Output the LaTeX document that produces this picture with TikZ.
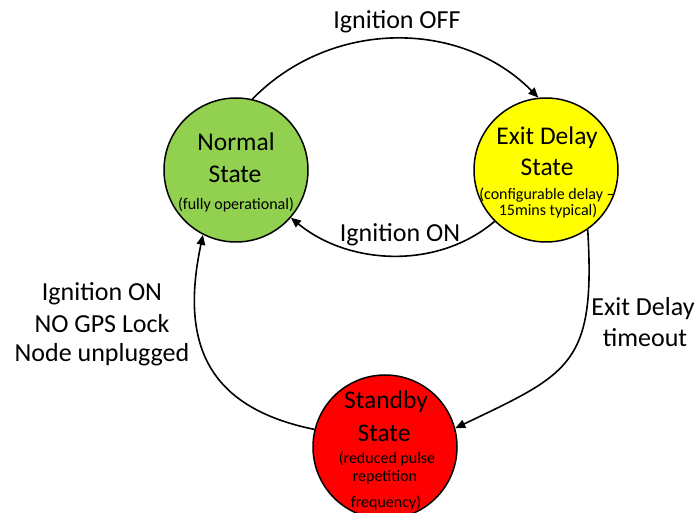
\documentclass[tikz,border=0pt]{standalone}
\usepackage{fontspec}
\setmainfont{Carlito}
\usetikzlibrary{arrows.meta}
\definecolor{stgreen}{HTML}{92D050}
\definecolor{styellow}{HTML}{FFFF00}
\definecolor{stred}{HTML}{FF0000}
\tikzset{
  statecircle/.style={circle, draw=black, line width=1.5pt, minimum size=144pt, inner sep=0pt},
  bigtxt/.style={anchor=base, inner sep=0pt, font=\fontsize{25.5}{30}\selectfont},
  smalltxt/.style={anchor=base, inner sep=0pt, font=\fontsize{16}{18}\selectfont},
  lbl/.style={anchor=base, inner sep=0pt, font=\fontsize{26}{30}\selectfont},
  conn/.style={line width=1.6pt, -{Triangle[length=10pt,width=8.5pt]}},
}
\begin{document}
\begin{tikzpicture}[x=1pt,y=-1pt]
\useasboundingbox (0,0) rectangle (697,513);
\begin{scope}
\clip (0,0) rectangle (697,513);
\node[statecircle, fill=stgreen] (green) at (236,170) {};
\node[statecircle, fill=styellow] (yellow) at (546,170) {};
\node[statecircle, fill=stred] (red) at (385,447) {};
\end{scope}
% texts inside states
\node[bigtxt] (g1) at (236,151) {Normal};
\node[bigtxt] (g2) at (235,183) {State};
\node[smalltxt] (g3) at (236,210) {(fully operational)};
\node[bigtxt] (y1) at (547,145) {Exit Delay};
\node[bigtxt] (y2) at (547,176) {State};
\node[smalltxt] (y3) at (547,200) {(configurable delay –};
\node[smalltxt] (y4) at (548,216) {15mins typical)};
\node[bigtxt] (r1) at (386,409) {Standby};
\node[bigtxt] (r2) at (384,441) {State};
\node[smalltxt] (r3) at (387,463) {(reduced pulse};
\node[smalltxt] (r4) at (385,482) {repetition};
\node[smalltxt] (r5) at (386,507) {frequency)};
% connectors
\draw[conn] (green.77) .. controls +(78,-80) and +(-78,-79) .. (yellow.96);
\draw[conn] (yellow.225) .. controls +(-58,49) and +(57,47) .. (green.-41);
\draw[conn] (red.166) .. controls +(-108,-22) and +(-23,108) .. (green.243);
\draw[conn] (yellow.305) .. controls +(8,135) and +(115,-55) .. (red.15);
% labels
\node[lbl] (l1) at (397,29) {Ignition OFF};
\node[lbl] (l2) at (400,242) {Ignition ON};
\node[lbl] (l3a) at (643,316) {Exit Delay};
\node[lbl] (l3b) at (645,347) {timeout};
\node[lbl] (l4a) at (102,301) {Ignition ON};
\node[lbl] (l4b) at (102,333) {NO GPS Lock};
\node[lbl] (l4c) at (102,362) {Node unplugged};
\end{tikzpicture}
\end{document}
